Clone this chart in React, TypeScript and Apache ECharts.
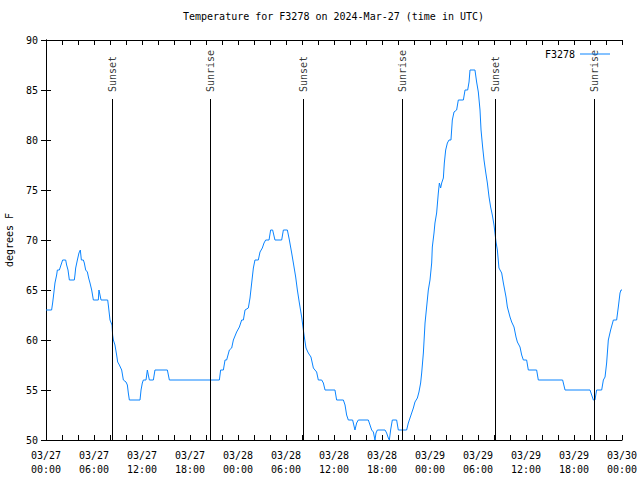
import React, { useEffect, useRef } from "react";
import * as echarts from "echarts";

// hours since 2024-03-27 00:00 UTC
const hours = [
  0, 0.7, 0.83, 0.92, 1.12, 1.33, 1.42, 1.67, 2.08, 2.46, 2.58, 2.75, 2.92, 3.54, 3.62, 3.71, 3.92, 4.12, 4.29, 4.42,
  4.67, 4.79, 4.96, 5.17, 5.33, 5.5, 5.71, 5.92, 6.54, 6.62, 6.75, 6.88, 7.71, 7.79, 8.0, 8.25, 8.33, 8.42, 8.62, 8.83,
  8.96, 9.17, 9.46, 9.67, 10.0, 10.17, 10.29, 10.42, 11.75, 11.88, 12.04, 12.17, 12.5, 12.67, 12.79, 12.92, 13.42, 13.62, 15.17, 15.42,
  21.67, 21.83, 22.17, 22.38, 22.58, 22.92, 23.21, 23.42, 23.83, 24.17, 24.46, 24.67, 24.88, 25.29, 25.5, 25.71, 25.92, 26.12, 26.54, 26.75,
  27.04, 27.25, 27.46, 27.88, 28.08, 28.33, 28.62, 29.46, 29.67, 30.17, 30.42, 30.71, 30.92, 31.21, 31.42, 31.67, 31.96, 32.17, 32.29, 32.5,
  32.79, 33.12, 33.42, 33.62, 33.83, 34.04, 34.46, 34.67, 34.88, 36.12, 36.33, 37.17, 37.38, 37.58, 37.79, 38.33, 38.62, 38.83, 39.04, 40.29,
  40.5, 40.71, 40.92, 41.12, 41.25, 41.42, 42.38, 42.58, 42.79, 42.92, 43.08, 43.29, 43.83, 44.04, 45.08, 45.29, 45.5, 45.71, 45.92, 46.12,
  46.42, 46.62, 46.83, 46.96, 47.17, 47.38, 47.58, 47.79, 48.0, 48.21, 48.29, 48.5, 48.62, 48.83, 49.04, 49.17, 49.33, 49.46, 49.67, 49.79,
  49.96, 50.17, 50.38, 50.62, 50.79, 51.0, 51.33, 51.54, 52.17, 52.38, 52.71, 52.88, 53.0, 53.62, 53.83, 54.04, 54.25, 54.38, 54.58, 54.75,
  54.96, 55.17, 55.38, 55.58, 55.79, 56.0, 56.12, 56.25, 56.42, 56.62, 56.96, 57.17, 57.5, 57.67, 58.0, 58.21, 58.5, 58.75, 58.92, 59.25,
  59.46, 59.67, 60.08, 60.29, 61.33, 61.54, 64.58, 64.88, 68.0, 68.21, 68.42, 68.62, 68.83, 69.46, 69.67, 69.88, 70.08, 70.29, 70.58, 70.92,
  71.33, 71.54, 71.75, 71.88, 72.0,
];

const tempF = [
  63, 63, 63.7, 64.3, 65.7, 66.5, 67, 67, 68, 68, 67.5, 67, 66, 66, 66.5, 67.2, 68, 68.7, 69, 68,
  68, 67.7, 67, 66.8, 66.2, 65.7, 65, 64, 64, 65, 64.5, 64, 64, 63.5, 62, 61.5, 60.5, 60, 59.5, 58.5,
  57.8, 57.5, 57, 56, 55.8, 55.5, 54.7, 54, 54, 55, 55.7, 56, 56, 57, 56.5, 56, 56, 57, 57, 56,
  56, 57, 57, 58, 58, 59, 59.2, 60, 60.8, 61.3, 62, 62, 63, 63.2, 64.2, 65.7, 67.2, 68, 68, 68.8,
  69.2, 69.7, 70, 70, 71, 71, 70, 70, 71, 71, 70, 68.7, 67.7, 66.3, 65, 63.7, 62.3, 61, 60.3, 59.2,
  58.7, 58.3, 57.2, 57, 56.8, 56, 56, 55.7, 55, 55, 54, 54, 53.5, 52.5, 52, 52, 51, 51.7, 52, 52,
  51.5, 51, 50.8, 50, 50.7, 51, 51, 50.7, 50.2, 50, 51, 52, 52, 51, 51, 51.7, 52.2, 52.7, 53.2, 53.8,
  54.2, 54.8, 55.7, 56.7, 58.7, 61.7, 63.3, 65, 66, 67.7, 69.3, 70.7, 71.7, 72.7, 74.7, 75.7, 75.2, 75.7, 76.2, 77.7,
  79, 79.7, 80, 80, 82, 82.8, 83, 84, 84, 85, 85, 85.8, 87, 87, 85.8, 84.8, 83, 81, 79.3, 78,
  76.8, 75.7, 74.3, 73.3, 72.5, 71.5, 70.7, 69.8, 69, 67.2, 66.7, 65.7, 64.3, 63.3, 62.3, 61.8, 61.3, 60.3, 59.8, 59.3,
  58.5, 58, 58, 57, 57, 56, 56, 55, 55, 54.5, 54, 54, 55, 55, 56, 56.3, 57.7, 60, 61, 62,
  62, 63.3, 64.7, 65, 65,
];

const xTickLabels = [
  "03/27\n00:00", "03/27\n06:00", "03/27\n12:00", "03/27\n18:00",
  "03/28\n00:00", "03/28\n06:00", "03/28\n12:00", "03/28\n18:00",
  "03/29\n00:00", "03/29\n06:00", "03/29\n12:00", "03/29\n18:00",
  "03/30\n00:00",
];

const eventNames = ["Sunset", "Sunrise", "Sunset", "Sunrise", "Sunset", "Sunrise"];
const eventHours = [8.27, 20.55, 32.17, 44.54, 56.17, 68.54];
const eventLineTop = 84.1;
const eventLabelBase = 84.8;

const FONT = "DejaVu Sans Mono";

export default function App() {
  const ref = useRef<HTMLDivElement>(null);
  useEffect(() => {
    if (!ref.current) return;
    const chart = echarts.init(ref.current, null, { renderer: "svg" });
    const tickCommon = { show: true, inside: true, length: 5, lineStyle: { color: "#000", width: 1 } };
    const lineCommon = { show: true, lineStyle: { color: "#000", width: 1 } };
    chart.setOption({
      animation: false,
      backgroundColor: "#fff",
      textStyle: { fontFamily: FONT },
      title: {
        text: "Temperature for F3278 on 2024-Mar-27 (time in UTC)",
        left: 183,
        top: 11,
        padding: 0,
        textStyle: { fontFamily: FONT, fontSize: 10, fontWeight: "normal", color: "#000" },
      },
      legend: {
        right: 30,
        top: 49,
        padding: 0,
        align: "right",
        itemWidth: 30,
        itemHeight: 1,
        itemGap: 4,
        data: [{ name: "F3278", icon: "rect" }],
        itemStyle: { borderWidth: 0 },
        textStyle: { fontFamily: FONT, fontSize: 10, color: "#000", padding: [0, 0, 0, 0] },
      },
      grid: { left: 46, right: 18, top: 40, bottom: 40, containLabel: false, outerBoundsMode: "none" },
      xAxis: [
        {
          type: "value",
          min: 0,
          max: 72,
          interval: 2,
          axisLine: lineCommon,
          axisTick: tickCommon,
          splitLine: { show: false },
          axisLabel: {
            show: true,
            margin: 8,
            color: "#000",
            fontFamily: FONT,
            fontSize: 10,
            lineHeight: 14,
            showMinLabel: true,
            showMaxLabel: true,
            formatter: (v: number) => (Math.round(v) % 6 === 0 ? xTickLabels[Math.round(v) / 6] : ""),
          },
        },
        {
          type: "value",
          position: "top",
          min: 0,
          max: 72,
          interval: 2,
          axisLine: lineCommon,
          axisTick: tickCommon,
          splitLine: { show: false },
          axisLabel: { show: false },
        },
      ],
      yAxis: [
        {
          type: "value",
          min: 50,
          max: 90,
          interval: 5,
          name: "degrees F",
          nameLocation: "middle",
          nameGap: 32,
          nameTextStyle: { fontFamily: FONT, fontSize: 10, color: "#000" },
          axisLine: lineCommon,
          axisTick: tickCommon,
          splitLine: { show: false },
          axisLabel: { margin: 8, color: "#000", fontFamily: FONT, fontSize: 10 },
        },
        {
          type: "value",
          position: "right",
          min: 50,
          max: 90,
          interval: 5,
          axisLine: lineCommon,
          axisTick: tickCommon,
          splitLine: { show: false },
          axisLabel: { show: false },
        },
      ],
      series: [
        {
          name: "F3278",
          type: "line",
          symbol: "none",
          data: hours.map((h, i) => [h, tempF[i]]),
          lineStyle: { color: "#0a84ff", width: 1 },
          itemStyle: { color: "#0a84ff" },
          z: 3,
          markLine: {
            silent: true,
            symbol: "none",
            label: { show: false },
            lineStyle: { color: "#000", width: 1, type: "solid" },
            data: eventHours.map((t) => [{ coord: [t, 50] }, { coord: [t, eventLineTop] }]),
          },
        },
        {
          name: "events",
          type: "scatter",
          symbolSize: 0.1,
          itemStyle: { color: "rgba(0,0,0,0)" },
          silent: true,
          data: eventHours.map((t, i) => ({ value: [t, eventLabelBase], name: eventNames[i] })),
          label: {
            show: true,
            position: "inside",
            rotate: 90,
            align: "left",
            verticalAlign: "middle",
            formatter: (p: any) => p.name,
            color: "#000",
            fontFamily: FONT,
            fontSize: 10,
          },
        },
      ],
    });
    return () => chart.dispose();
  }, []);
  return <div ref={ref} style={{ position: "fixed", left: 0, top: 0, width: 640, height: 480 }} />;
}
